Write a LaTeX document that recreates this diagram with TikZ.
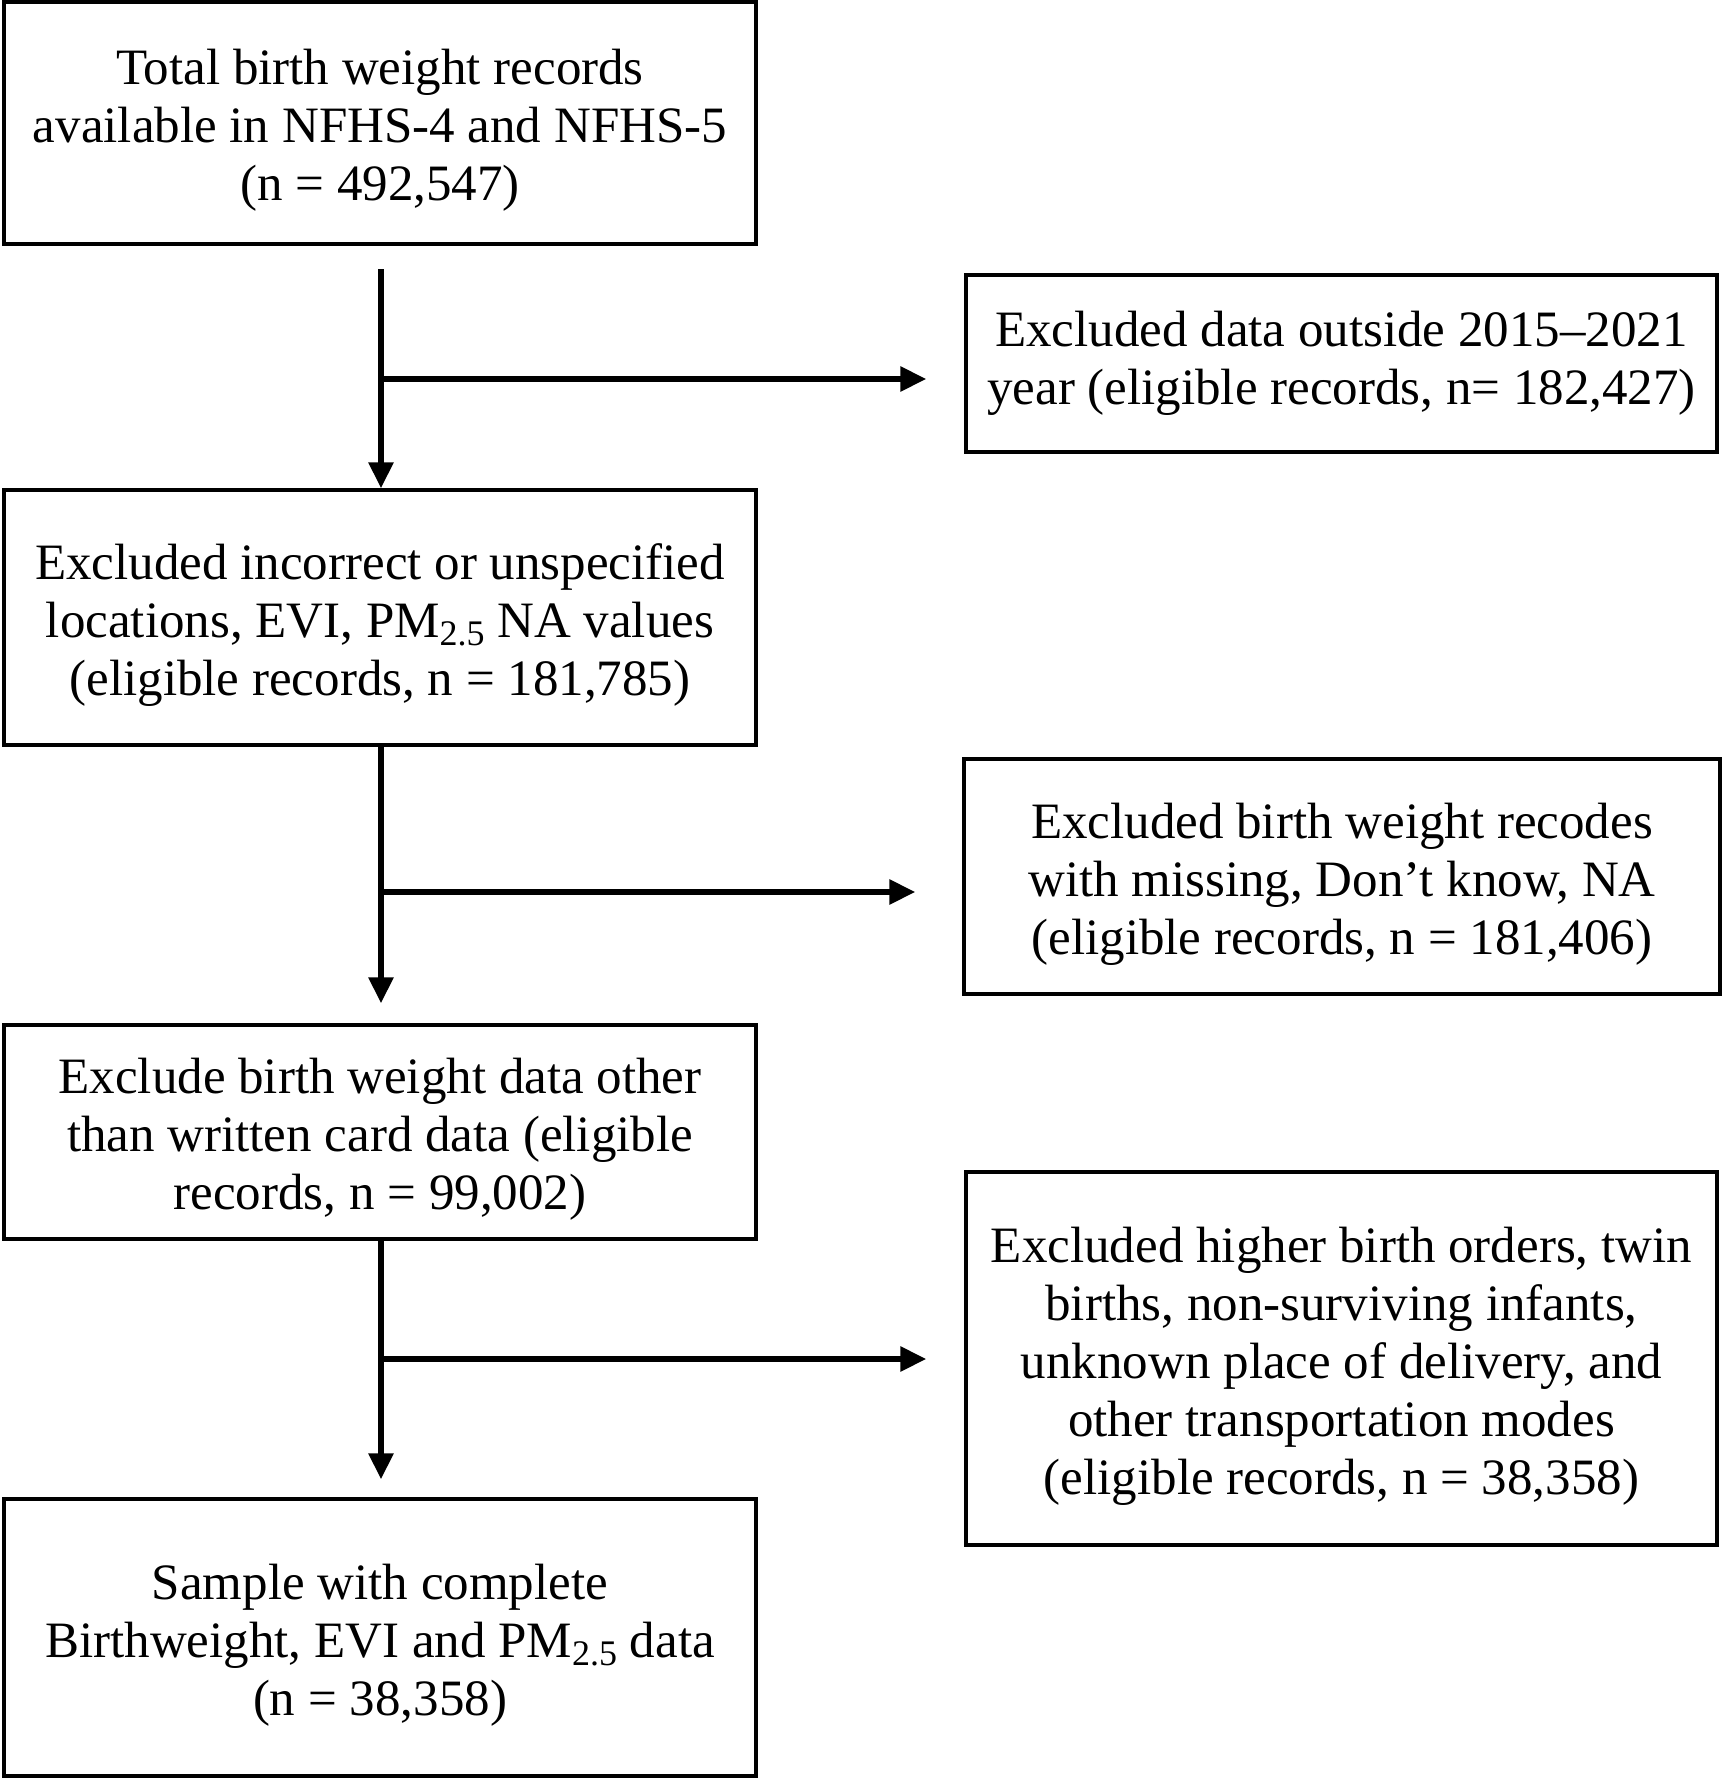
\documentclass[tikz,border=0pt]{standalone}
\usepackage{fontspec}
\setmainfont{Liberation Serif}
\usetikzlibrary{arrows.meta,calc}
\newcommand{\pmsub}{PM\raisebox{-0.16em}{\fontsize{36}{36}\selectfont 2.5}}
\newcommand{\tstrut}{\rule{0pt}{50pt}}
\begin{document}
\begin{tikzpicture}[x=1pt,y=-1pt,
  box/.style={draw, line width=3.4pt, rectangle, align=center, inner sep=0pt, font=\fontsize{51}{58}\selectfont},
  flow/.style={line width=6pt, -{Triangle[length=26pt,width=24pt]}}
]
\useasboundingbox (0,0) rectangle (1725,1779);

% main column
\node[box, minimum width=752pt, minimum height=242pt] (b1) at (380,123)
  {\tstrut Total birth weight records\\available in NFHS-4 and NFHS-5\\(n = 492,547)};
\node[box, minimum width=752pt, minimum height=255pt] (b2) at (380,617.5)
  {\tstrut Excluded incorrect or unspecified\\locations, EVI, \pmsub{} NA values\\(eligible records, n = 181,785)};
\node[box, minimum width=752pt, minimum height=214pt] (b3) at (380,1132)
  {\tstrut Exclude birth weight data other\\than written card data (eligible\\records, n = 99,002)};
\node[box, minimum width=752pt, minimum height=277pt] (b4) at (380,1637.5)
  {\tstrut Sample with complete\\Birthweight, EVI and \pmsub{} data\\(n = 38,358)};

% right column
\node[box, minimum width=751pt, minimum height=177pt] (ra) at (1341.5,363.5)
  {Excluded data outside 2015–2021\\year (eligible records, n= 182,427)};
\node[box, minimum width=756pt, minimum height=235pt] (rb) at (1342,876.5)
  {\tstrut Excluded birth weight recodes\\with missing, Don’t know, NA\\(eligible records, n = 181,406)};
\node[box, minimum width=751pt, minimum height=373pt] (rc) at (1341.5,1358.5)
  {\tstrut Excluded higher birth orders, twin\\births, non-surviving infants,\\unknown place of delivery, and\\other transportation modes\\(eligible records, n = 38,358)};

% connectors
\coordinate (s1) at (381,269);
\coordinate (j1) at (381,379);
\coordinate (j2) at (381,892);
\coordinate (j3) at (381,1359);

\draw[flow] (s1) -- (s1 |- b2.north);
\draw[flow, shorten >=38pt] (j1) -- (j1 -| ra.west);

\draw[flow, shorten >=20pt] (j2 |- b2.south) -- (j2 |- b3.north);
\draw[flow, shorten >=47pt] (j2) -- (j2 -| rb.west);

\draw[flow, shorten >=18pt] (j3 |- b3.south) -- (j3 |- b4.north);
\draw[flow, shorten >=38pt] (j3) -- (j3 -| rc.west);
\end{tikzpicture}
\end{document}
